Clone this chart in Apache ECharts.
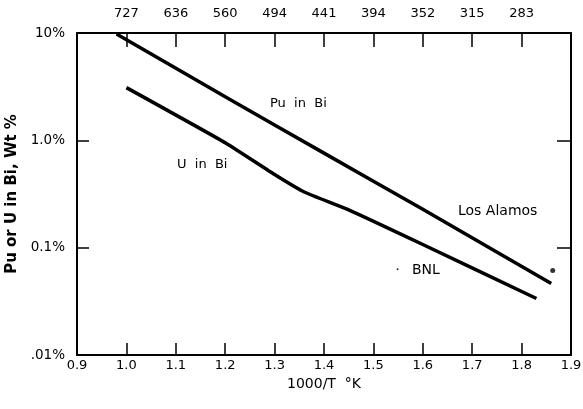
<!DOCTYPE html>
<html><head><meta charset="utf-8">
<script src="https://cdn.jsdelivr.net/npm/echarts@6/dist/echarts.min.js"></script>
<style>html,body{margin:0;padding:0;background:#fff}#c{width:583px;height:409px}</style>
</head><body><div id="c"></div>
<script>
// x = 1000/T (K), y = Wt %
const puX = [0.98, 1.2, 1.4, 1.6, 1.86];
const puY = [9.8, 2.55, 0.76, 0.228, 0.0464];
const uX = [1.0, 1.2, 1.3, 1.36, 1.45, 1.6, 1.83];
const uY = [3.1, 0.95, 0.48, 0.33, 0.225, 0.107, 0.0336];
const dotsX = [1.863, 1.549];
const dotsY = [0.0614, 0.063];
const bottomTicks = [0.9, 1.0, 1.1, 1.2, 1.3, 1.4, 1.5, 1.6, 1.7, 1.8, 1.9];
const topTickLabels = ['', '727', '636', '560', '494', '441', '394', '352', '315', '283', ''];
const yTickLabels = {10: '10%', 1: '1.0%', 0.1: '0.1%', 0.01: '.01%'};

const FONT = 'DejaVu Sans';
const chart = echarts.init(document.getElementById('c'), null, {renderer: 'canvas'});
function idx(v){ return Math.round((v - 0.9) * 10); }
const option = {
  animation: false,
  textStyle: {fontFamily: FONT, color: '#000'},
  grid: {left: 77, right: 12, top: 33, bottom: 54, containLabel: false, outerBoundsMode: 'none'},
  xAxis: [{
    type: 'value', min: 0.9, max: 1.9, interval: 0.1, position: 'bottom',
    name: '1000/T  °K', nameLocation: 'middle', nameGap: 22,
    nameTextStyle: {fontFamily: FONT, fontSize: 14, color: '#000'},
    axisLine: {lineStyle: {color: '#000', width: 2}},
    axisTick: {inside: true, length: 12, lineStyle: {color: '#000', width: 1.5}},
    axisLabel: {fontFamily: FONT, fontSize: 13, color: '#000', margin: 4,
      formatter: v => bottomTicks[idx(v)].toFixed(1)},
    splitLine: {show: false}
  }, {
    type: 'value', min: 0.9, max: 1.9, interval: 0.1, position: 'top',
    axisLine: {lineStyle: {color: '#000', width: 2}},
    axisTick: {inside: true, length: 14, lineStyle: {color: '#000', width: 1.5}},
    axisLabel: {fontFamily: FONT, fontSize: 13, color: '#000', margin: 13,
      formatter: v => topTickLabels[idx(v)]},
    splitLine: {show: false}
  }],
  yAxis: [{
    type: 'log', logBase: 10, min: 0.01, max: 10, position: 'left',
    name: 'Pu or U in Bi, Wt %', nameLocation: 'middle', nameGap: 54, nameRotate: 90,
    nameTextStyle: {fontFamily: FONT, fontSize: 15, fontWeight: 'bold', color: '#000'},
    axisLine: {lineStyle: {color: '#000', width: 2}},
    axisTick: {inside: true, length: 12, lineStyle: {color: '#000', width: 1.5}},
    minorTick: {show: false},
    axisLabel: {fontFamily: FONT, fontSize: 13.5, color: '#000', margin: 12,
      formatter: v => yTickLabels[v] !== undefined ? yTickLabels[v] : ''},
    splitLine: {show: false}
  }, {
    type: 'log', logBase: 10, min: 0.01, max: 10, position: 'right',
    axisLine: {lineStyle: {color: '#000', width: 2}},
    axisTick: {inside: true, length: 14, lineStyle: {color: '#000', width: 1.5}},
    axisLabel: {show: false},
    splitLine: {show: false}
  }],
  series: [{
    name: 'Pu in Bi', type: 'line', xAxisIndex: 0, yAxisIndex: 0,
    data: puX.map((x, i) => [x, puY[i]]), smooth: 0.2, showSymbol: false,
    lineStyle: {color: '#000', width: 3.5}
  }, {
    name: 'U in Bi', type: 'line', xAxisIndex: 0, yAxisIndex: 0,
    data: uX.map((x, i) => [x, uY[i]]), smooth: 0.15, showSymbol: false,
    lineStyle: {color: '#000', width: 3.5}
  }, {
    name: 'dots', type: 'scatter', xAxisIndex: 0, yAxisIndex: 0,
    data: dotsX.map((x, i) => [x, dotsY[i]]),
    symbolSize: (v, p) => p.dataIndex === 0 ? 5 : 2,
    itemStyle: {color: '#000'}
  }],
  graphic: [
    {type: 'text', left: 270, top: 97, style: {text: 'Pu  in  Bi', font: '13px "DejaVu Sans"', fill: '#000'}},
    {type: 'text', left: 177, top: 158, style: {text: 'U  in  Bi', font: '13px "DejaVu Sans"', fill: '#000'}},
    {type: 'text', left: 458, top: 204, style: {text: 'Los Alamos', font: '14px "DejaVu Sans"', fill: '#000'}},
    {type: 'text', left: 412, top: 263, style: {text: 'BNL', font: '14px "DejaVu Sans"', fill: '#000'}}
  ]
};
chart.setOption(option);
</script></body></html>
